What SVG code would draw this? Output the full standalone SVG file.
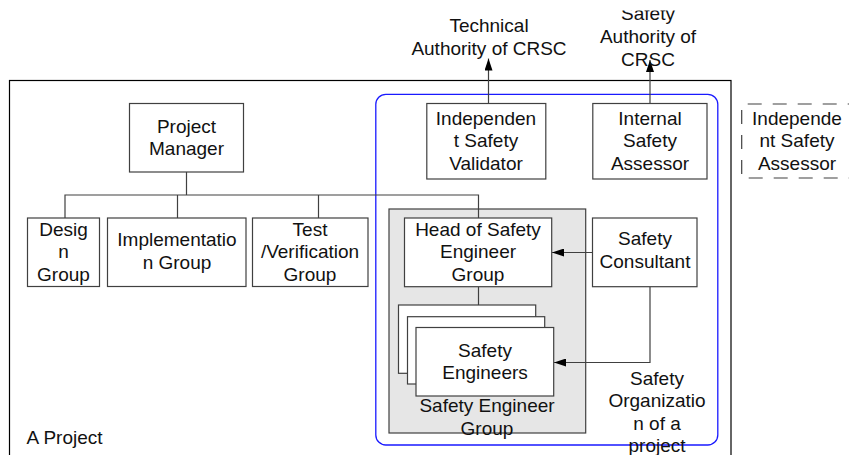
<svg xmlns="http://www.w3.org/2000/svg" width="849" height="455" viewBox="0 0 849 455">
<defs>
<style>
.box{fill:#fff;stroke:#404040;stroke-width:1.2}
.t{font-family:"Liberation Sans",Arial,sans-serif;font-size:19px;fill:#111;text-anchor:middle}
.tl{font-family:"Liberation Sans",Arial,sans-serif;font-size:19px;fill:#111}
.c{fill:none;stroke:#404040;stroke-width:1.2}
</style>
<marker id="ah" viewBox="0 0 12 8" refX="12" refY="4" markerWidth="12" markerHeight="8" markerUnits="userSpaceOnUse" orient="auto">
<path d="M0,0 L12,4 L0,8 Z" fill="#000"/>
</marker>
<clipPath id="topclip"><rect x="0" y="10.5" width="849" height="445"/></clipPath>
</defs>
<rect width="849" height="455" fill="#fff"/>

<g id="project">
<rect x="9.5" y="80.5" width="721.5" height="390" fill="none" stroke="#000" stroke-width="1.2"/>
<text class="tl" x="26.5" y="443.5">A Project</text>
</g>

<g id="safety-organization">
<rect x="375.8" y="94.3" width="342" height="350.7" rx="10" fill="none" stroke="#1a1aff" stroke-width="1.3"/>
<text class="t" x="657" y="385">Safety<tspan x="657" y="407">Organizatio</tspan><tspan x="657" y="429.5">n of a</tspan><tspan x="657" y="452">project</tspan></text>
</g>

<g id="safety-engineer-group">
<rect x="389" y="209" width="196.7" height="224" fill="#e6e6e6" stroke="#404040" stroke-width="1.2"/>
<text class="t" x="487" y="412">Safety Engineer<tspan x="487" y="434.5">Group</tspan></text>
</g>

<g id="connectors">
<path class="c" d="M186.5,172 V195 M65,218 V195 H478.5 V218 M177.5,195 V218 M318.5,195 V218"/>
<path class="c" d="M478.5,287 V327.5"/>
<path class="c" d="M488.5,103.5 V58.5" marker-end="url(#ah)"/>
<path class="c" d="M650,103.5 V60" marker-end="url(#ah)"/>
<path class="c" d="M592.5,252.5 H552" marker-end="url(#ah)"/>
<path class="c" d="M650,287 V362.5 H554" marker-end="url(#ah)"/>
</g>

<g id="project-manager">
<rect class="box" x="129.5" y="103.5" width="114" height="68.5"/>
<text class="t" x="186.5" y="132.5">Project<tspan x="186.5" y="155.3">Manager</tspan></text>
</g>

<g id="design-group">
<rect class="box" x="27.5" y="218" width="72" height="68.5"/>
<text class="t" x="63.5" y="235.5">Desig<tspan x="63.5" y="258">n</tspan><tspan x="63.5" y="280.5">Group</tspan></text>
</g>

<g id="implementation-group">
<rect class="box" x="107.5" y="218" width="138.5" height="68.5"/>
<text class="t" x="177" y="246">Implementatio<tspan x="177" y="269">n Group</tspan></text>
</g>

<g id="test-group">
<rect class="box" x="252.5" y="218" width="115.5" height="68.5"/>
<text class="t" x="310" y="235.5">Test<tspan x="310" y="258">/Verification</tspan><tspan x="310" y="280.5">Group</tspan></text>
</g>

<g id="independent-safety-validator">
<rect class="box" x="426.8" y="103.5" width="119" height="75.5"/>
<text class="t" x="486" y="125">Independen<tspan x="486" y="147">t Safety</tspan><tspan x="486" y="169.5">Validator</tspan></text>
</g>

<g id="internal-safety-assessor">
<rect class="box" x="592.8" y="103.5" width="114.2" height="75.5"/>
<text class="t" x="650" y="125">Internal<tspan x="650" y="147">Safety</tspan><tspan x="650" y="169.5">Assessor</tspan></text>
</g>

<g id="independent-safety-assessor">
<path d="M741.7,104 H860 M741.7,104 V178 H860" fill="none" stroke="#404040" stroke-width="1.2" stroke-dasharray="14 11" stroke-dashoffset="-6"/>
<text class="t" x="797" y="125">Independe<tspan x="797" y="147">nt Safety</tspan><tspan x="797" y="169.5">Assessor</tspan></text>
</g>

<g id="head-of-safety-engineer-group">
<rect class="box" x="404.5" y="218" width="147.2" height="68.7"/>
<text class="t" x="478" y="235.5">Head of Safety<tspan x="478" y="258.3">Engineer</tspan><tspan x="478" y="280.5">Group</tspan></text>
</g>

<g id="safety-consultant">
<rect class="box" x="592.5" y="218" width="104.5" height="68.7"/>
<text class="t" x="645" y="245">Safety<tspan x="645" y="268">Consultant</tspan></text>
</g>

<g id="safety-engineers">
<rect class="box" x="398.5" y="305" width="137.2" height="68.3"/>
<rect class="box" x="407.5" y="316.7" width="137.2" height="67.3"/>
<rect class="box" x="416" y="327.5" width="137.7" height="68.5"/>
<text class="t" x="485" y="356.7">Safety<tspan x="485" y="379">Engineers</tspan></text>
</g>

<g id="technical-authority">
<text class="t" x="489" y="31.7">Technical<tspan x="489" y="54.5">Authority of CRSC</tspan></text>
</g>

<g id="safety-authority" clip-path="url(#topclip)">
<text class="t" x="648" y="19.8">Safety<tspan x="648" y="42.7">Authority of</tspan><tspan x="648" y="66">CRSC</tspan></text>
</g>
</svg>
